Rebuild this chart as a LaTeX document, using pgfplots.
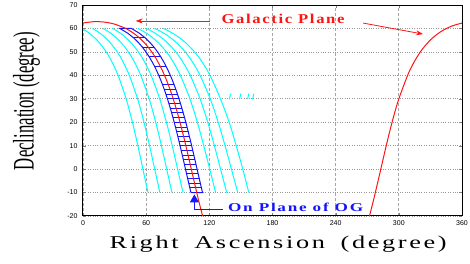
\documentclass[border=0pt]{standalone}
\usepackage{pgfplots}
\pgfplotsset{compat=1.18}
\usepackage{fontspec}
\setmainfont{Liberation Serif}
\newfontfamily\ticksf{Liberation Sans}
\newfontfamily\spaced[LetterSpace=10]{Liberation Serif}
\usetikzlibrary{arrows.meta}
\definecolor{gred}{RGB}{255,20,20}
\definecolor{gcyan}{RGB}{0,255,255}
\definecolor{gblue}{RGB}{20,20,255}
\begin{document}
\begin{tikzpicture}
\begin{axis}[
  scale only axis, width=379pt, height=211pt,
  xmin=0, xmax=360, ymin=-20, ymax=70,
  xtick={0,60,...,360}, ytick={-20,-10,...,70},
  tick align=inside, major tick length=3pt,
  tick label style={font=\ticksf\fontsize{7}{8}\selectfont},
  /pgf/number format/assume math mode=true,
  xticklabel style={yshift=-1pt}, yticklabel style={xshift=-2pt},
  grid=major,
  x grid style={gray!70, densely dashed, line width=0.8pt},
  y grid style={gray!80, dotted, line width=0.6pt},
  axis line style={black, line width=1pt},
  unbounded coords=jump,
  clip mode=individual,
]
% cyan curves (left group)
\addplot[gcyan, line width=1pt, smooth] coordinates {(-1,60) (2.74,59) (8.67,57) (15.37,54) (22.04,50) (27.22,46) (33.31,40) (40.96,30) (46.95,20) (52.11,10) (56.9,0) (61.7,-10)};
\addplot[gcyan, line width=1pt, smooth] coordinates {(9,60) (12.82,59) (18.87,57) (25.71,54) (32.52,50) (37.8,46) (44.02,40) (51.83,30) (57.94,20) (63.21,10) (68.1,0) (73,-10)};
\addplot[gcyan, line width=1pt, smooth] coordinates {(19,60) (22.91,59) (29.1,57) (36.1,54) (43.07,50) (48.48,46) (54.84,40) (62.83,30) (69.09,20) (74.48,10) (79.49,0) (84.5,-10)};
\addplot[gcyan, line width=1pt, smooth] coordinates {(28,60) (32,59) (38.33,57) (45.49,54) (52.62,50) (58.15,46) (64.66,40) (72.84,30) (79.23,20) (84.75,10) (89.87,0) (95,-10)};
% cyan curves (right group)
\addplot[gcyan, line width=1pt, smooth] coordinates {(52,60) (56.42,59) (63.41,57) (71.32,54) (79.2,50) (85.3,46) (92.49,40) (101.52,30) (108.59,20) (114.68,10) (120.34,0) (126,-10)};
\addplot[gcyan, line width=1pt, smooth] coordinates {(60,60) (64.57,59) (71.8,57) (79.97,54) (88.11,50) (94.43,46) (101.86,40) (111.19,30) (118.5,20) (124.8,10) (130.65,0) (136.5,-10)};
\addplot[gcyan, line width=1pt, smooth] coordinates {(68,60) (72.72,59) (80.18,57) (88.63,54) (97.03,50) (103.55,46) (111.23,40) (120.87,30) (128.41,20) (134.91,10) (140.96,0) (147,-10)};
\addplot[gcyan, line width=1pt, smooth] coordinates {(76,60) (80.87,59) (88.57,57) (97.28,54) (105.95,50) (112.68,46) (120.6,40) (130.54,30) (138.82,20) (145.53,10) (151.77,0) (157.5,-10)};
% short cyan dashes
\addplot[gcyan, line width=1pt] coordinates {(139.0,29.8) (140.2,32.2) (nan,nan) (148.7,29.8) (149.9,32.2) (nan,nan) (156.3,29.8) (157.5,32.2) (nan,nan) (161.1,29.8) (162.3,32.2)};
% blue band outline
\addplot[gblue, line width=1pt] coordinates {
(102.53,-10) (101.48,-8) (100.44,-6) (99.41,-4) (98.38,-2) (97.36,0) (96.34,2) (95.31,4) (94.28,6) (93.24,8) (92.19,10) (91.12,12) (90.03,14) (88.93,16) (87.79,18) (86.63,20) (85.43,22) (84.20,24) (82.91,26) (81.58,28) (80.18,30) (78.72,32) (77.18,34) (75.55,36) (73.81,38) (71.94,40) (69.93,42) (67.76,44) (65.37,46) (62.74,48) (59.80,50) (56.47,52) (52.61,54) (48.03,56) (42.41,58) (34.97,60)
(45.97,60) (53.41,58) (59.03,56) (63.61,54) (67.47,52) (70.80,50) (73.74,48) (76.37,46) (78.76,44) (80.93,42) (82.94,40) (84.81,38) (86.55,36) (88.18,34) (89.72,32) (91.18,30) (92.58,28) (93.91,26) (95.20,24) (96.43,22) (97.63,20) (98.79,18) (99.93,16) (101.03,14) (102.12,12) (103.19,10) (104.24,8) (105.28,6) (106.31,4) (107.34,2) (108.36,0) (109.38,-2) (110.41,-4) (111.44,-6) (112.48,-8) (113.53,-10) (102.53,-10)};
% rungs
\addplot[gblue, line width=0.8pt] coordinates {
(101.48,-8) (112.48,-8) (nan,nan) (100.44,-6) (111.44,-6) (nan,nan) (99.41,-4) (110.41,-4) (nan,nan)
(98.38,-2) (109.38,-2) (nan,nan) (97.36,0) (108.36,0) (nan,nan) (96.34,2) (107.34,2) (nan,nan)
(95.31,4) (106.31,4) (nan,nan) (94.28,6) (105.28,6) (nan,nan) (93.24,8) (104.24,8) (nan,nan)
(92.19,10) (103.19,10) (nan,nan) (91.12,12) (102.12,12) (nan,nan) (90.03,14) (101.03,14) (nan,nan)
(88.93,16) (99.93,16) (nan,nan) (87.79,18) (98.79,18) (nan,nan) (86.63,20) (97.63,20) (nan,nan)
(85.43,22) (96.43,22) (nan,nan) (84.20,24) (95.20,24) (nan,nan) (82.91,26) (93.91,26) (nan,nan)
(81.58,28) (92.58,28) (nan,nan) (80.18,30) (91.18,30) (nan,nan) (78.72,32) (89.72,32) (nan,nan)
(77.18,34) (88.18,34) (nan,nan) (75.55,36) (86.55,36) (nan,nan) (71.94,40) (82.94,40) (nan,nan)
(67.76,44) (78.76,44) (nan,nan) (62.74,48) (73.74,48) (nan,nan) (56.47,52) (67.47,52) (nan,nan)
(48.03,56) (59.03,56)};
% galactic plane
\addplot[gred, line width=1pt, smooth] coordinates {(0,62.3) (10,62.88) (20,62.73) (30,61.84) (40,60.11) (45,58.87) (50,57.32) (55,55.40) (60,53.05) (65,50.19) (70,46.69) (75,42.41) (80,37.22) (85,30.95) (90,23.52) (95,14.97) (100,5.57) (105,-4.17) (110,-13.66) (115,-22.35)};
\addplot[gred, line width=1pt, smooth] coordinates {(268,-26.6) (270,-23.52) (275,-14.97) (280,-5.57) (285,4.17) (290,13.66) (295,22.35) (300,29.95) (310,41.72) (320,49.72) (330,55.10) (340,58.67) (350,60.96) (360,62.3)};
% annotations
\addplot[gred, line width=0.8pt, -{Stealth[length=7pt,width=5pt]}] coordinates {(120.5,63.2) (50,63.2)};
\addplot[gred, line width=0.8pt, -{Stealth[length=7pt,width=5pt]}] coordinates {(266,62.3) (323,57.6)};
\addplot[gblue, line width=1pt, -{Triangle[length=8pt,width=9pt]}] coordinates {(105.8,-17.4) (105.8,-10.8)};
\addplot[gblue, line width=1pt] coordinates {(105.8,-17.4) (133,-17.4)};
\node[text=gred, anchor=center] at (axis cs:190,64.2) {\resizebox{123pt}{\height}{\spaced\fontsize{13.5}{15}\selectfont\bfseries Galactic Plane}};
\node[text=gblue, anchor=west, inner sep=0pt] at (axis cs:137.7,-16.3) {\resizebox{135pt}{\height}{\spaced\fontsize{12}{14}\selectfont\bfseries On Plane of OG}};
\node[rotate=90, anchor=center, inner sep=0pt] at (axis description cs:-0.149,0.545) {\resizebox*{138pt}{27pt}{\fontsize{24}{26}\selectfont Declination (degree)}};
\node[anchor=center, inner sep=0pt] at (axis description cs:0.515,-0.133) {\resizebox{337pt}{\height}{\spaced\fontsize{18}{20}\selectfont Right\hspace{0.6em}Ascension\hspace{0.6em}(degree)}};
\end{axis}
\pgfresetboundingbox
\path[use as bounding box] (-83pt,-48pt) rectangle (387pt,216pt);
\end{tikzpicture}
\end{document}
